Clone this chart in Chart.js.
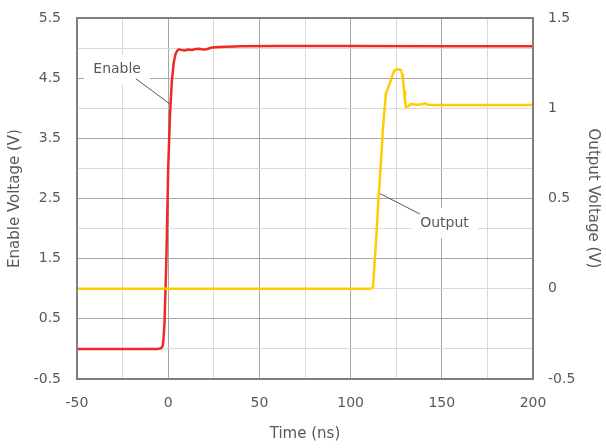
<!DOCTYPE html>
<html lang="en">
<head>
  <meta charset="utf-8">
  <title>Enable / Output Voltage vs Time</title>
  <style>
    html, body { margin: 0; padding: 0; background: #fff; }
    .chartBox { width: 606px; height: 448px; }
  </style>
</head>
<body>
  <div class="chartBox">
    <canvas id="myChart"></canvas>
  </div>

  <script src="https://cdn.jsdelivr.net/npm/chart.js/dist/chart.umd.min.js"></script>
  <script>
    const enableTime = [-50, -20, -6, -4, -3, -2.5, -2, -1, 0, 1, 2, 3, 4, 5, 6, 7, 9, 11, 13, 15, 17, 19, 21, 24, 28, 40, 60, 100, 150, 200];
    const enableVolts = [0, 0, 0, 0.01, 0.05, 0.2, 0.45, 1.5, 3.0, 3.9, 4.45, 4.75, 4.9, 4.96, 4.98, 4.97, 4.96, 4.975, 4.97, 4.985, 4.99, 4.975, 4.98, 5.01, 5.02, 5.03, 5.035, 5.035, 5.03, 5.03];

    const outputTime = [-50, 100, 110, 111.5, 112.3, 113, 114, 115, 116, 117, 117.7, 118.5, 119.4, 120.5, 122.1, 123.8, 124.9, 126, 127.6, 128.2, 128.7, 129.3, 129.8, 130.3, 131.4, 133, 136, 139, 140.8, 142.5, 150, 175, 200];
    const outputVolts = [0, 0, 0, 0.002, 0.01, 0.12, 0.27, 0.45, 0.6, 0.76, 0.88, 0.98, 1.085, 1.11, 1.157, 1.206, 1.215, 1.216, 1.212, 1.19, 1.157, 1.1, 1.046, 1.007, 1.01, 1.023, 1.02, 1.022, 1.027, 1.02, 1.018, 1.018, 1.018];

    const xTickLabels = [-50, 0, 50, 100, 150, 200];
    const leftTickLabels = [-0.5, 0.5, 1.5, 2.5, 3.5, 4.5, 5.5];
    const rightTickLabels = [-0.5, 0, 0.5, 1, 1.5];

    const textColor = '#595959';
    const majorGrid = '#a6a6a6';
    const minorGrid = '#d9d9d9';
    const fontFam = '"DejaVu Sans", Verdana, sans-serif';

    const isLabel = (list, v) => list.some((l) => Math.abs(l - v) < 1e-6);

    // callout labels (text + leader line), positioned in data units
    const callouts = [
      { text: 'Enable', axis: 'y', at: [-28, 4.64], from: [-17.7, 4.49], to: [1.0, 4.07] },
      { text: 'Output', axis: 'y2', at: [151.5, 0.364], from: [115.6, 0.53], to: [138.0, 0.414] }
    ];

    const calloutPlugin = {
      id: 'callouts',
      beforeDatasetsDraw(chart) {
        const { ctx, scales } = chart;
        ctx.save();
        ctx.font = '14px ' + fontFam;
        callouts.forEach((c) => {
          const ys = scales[c.axis];
          const tx = scales.x.getPixelForValue(c.at[0]);
          const ty = ys.getPixelForValue(c.at[1]);
          const w = ctx.measureText(c.text).width;
          ctx.fillStyle = '#fff';
          ctx.fillRect(tx - w / 2 - 9, ty - 15, w + 18, 30);
          ctx.strokeStyle = textColor;
          ctx.lineWidth = 1;
          ctx.beginPath();
          ctx.moveTo(scales.x.getPixelForValue(c.from[0]), ys.getPixelForValue(c.from[1]));
          ctx.lineTo(scales.x.getPixelForValue(c.to[0]), ys.getPixelForValue(c.to[1]));
          ctx.stroke();
          ctx.fillStyle = textColor;
          ctx.textAlign = 'center';
          ctx.textBaseline = 'middle';
          ctx.fillText(c.text, tx, ty);
        });
        ctx.restore();
      },
      afterDatasetsDraw(chart) {
        // plot frame
        const { ctx, chartArea: a } = chart;
        ctx.save();
        ctx.strokeStyle = '#7f7f7f';
        ctx.lineWidth = 2;
        ctx.strokeRect(a.left, a.top, a.right - a.left, a.bottom - a.top);
        ctx.restore();
      }
    };

    // fixed box sizes so the plot area lands where the original has it
    const fixWidth = (w) => (s) => { s.width = w; s.paddingTop = 0; s.paddingBottom = 0; };

    const data = {
      datasets: [{
        label: 'Enable',
        data: enableTime.map((t, i) => ({ x: t, y: enableVolts[i] })),
        borderColor: '#ee2a24',
        borderWidth: 2.5,
        pointRadius: 0,
        tension: 0,
        yAxisID: 'y',
        order: 1
      }, {
        label: 'Output',
        data: outputTime.map((t, i) => ({ x: t, y: outputVolts[i] })),
        borderColor: '#ffcc00',
        borderWidth: 2.5,
        pointRadius: 0,
        tension: 0,
        yAxisID: 'y2',
        order: 0
      }]
    };

    const config = {
      type: 'line',
      data: data,
      plugins: [calloutPlugin],
      options: {
        responsive: false,
        animation: false,
        layout: { padding: { top: 18 } },
        plugins: { legend: { display: false }, tooltip: { enabled: false } },
        scales: {
          x: {
            type: 'linear',
            min: -50,
            max: 200,
            afterFit: (s) => { s.height = 69; s.paddingLeft = 0; s.paddingRight = 0; },
            ticks: {
              stepSize: 25,
              padding: 16,
              color: textColor,
              font: { family: fontFam, size: 14 },
              maxRotation: 0,
              autoSkip: false,
              callback: (v) => isLabel(xTickLabels, v) ? v : ''
            },
            grid: {
              drawTicks: false,
              color: (c) => isLabel(xTickLabels, c.tick.value) ? majorGrid : minorGrid
            },
            border: { display: false },
            title: {
              display: true,
              text: 'Time (ns)',
              color: textColor,
              font: { family: fontFam, size: 15 },
              padding: { top: 0, bottom: 5 }
            }
          },
          y: {
            position: 'left',
            min: -0.5,
            max: 5.5,
            afterFit: fixWidth(77),
            ticks: {
              stepSize: 0.5,
              padding: 16,
              color: textColor,
              font: { family: fontFam, size: 14 },
              autoSkip: false,
              callback: (v) => isLabel(leftTickLabels, v) ? v : ''
            },
            grid: {
              drawTicks: false,
              color: (c) => isLabel(leftTickLabels, c.tick.value) ? majorGrid : minorGrid
            },
            border: { display: false },
            title: {
              display: true,
              text: 'Enable Voltage (V)',
              color: textColor,
              font: { family: fontFam, size: 15 },
              padding: { top: 6, bottom: 0 }
            }
          },
          y2: {
            position: 'right',
            min: -0.5,
            max: 1.5,
            afterFit: fixWidth(73),
            ticks: {
              stepSize: 0.5,
              padding: 15,
              color: textColor,
              font: { family: fontFam, size: 14 },
              callback: (v) => isLabel(rightTickLabels, v) ? v : ''
            },
            grid: { display: false, drawTicks: false },
            border: { display: false },
            title: {
              display: true,
              text: 'Output Voltage (V)',
              color: textColor,
              font: { family: fontFam, size: 15 },
              padding: { top: 4, bottom: 0 }
            }
          }
        }
      }
    };

    const ctx = document.getElementById('myChart');
    ctx.width = 606;
    ctx.height = 448;
    const myChart = new Chart(ctx, config);
  </script>
</body>
</html>
